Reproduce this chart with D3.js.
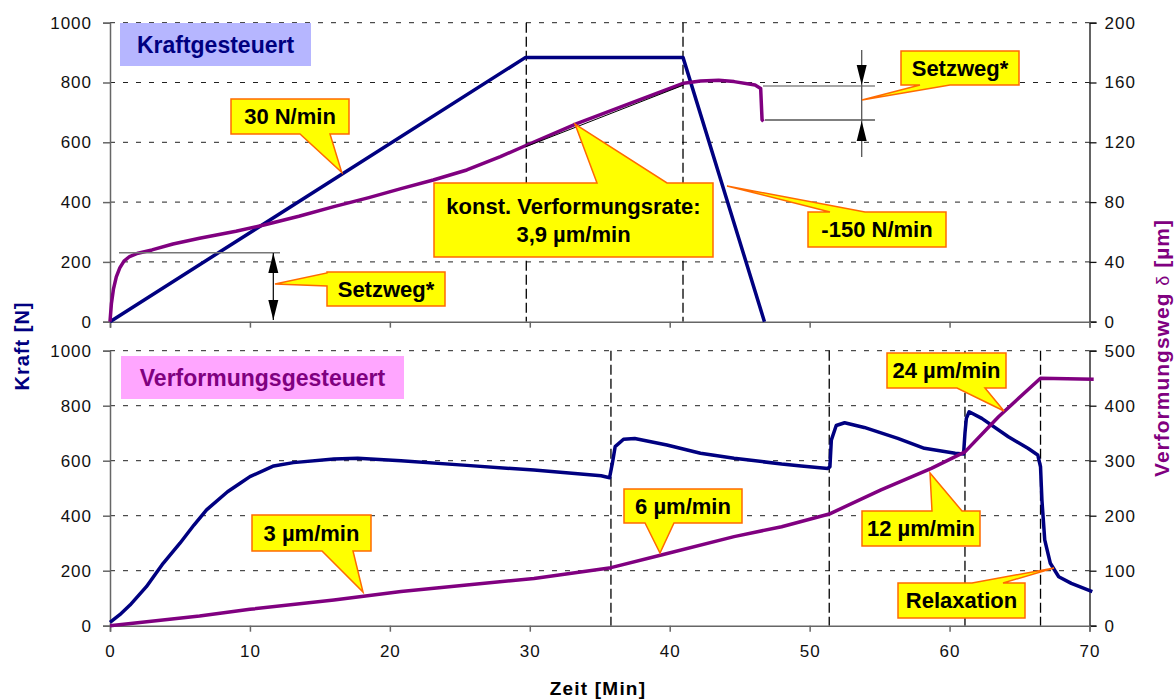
<!DOCTYPE html>
<html>
<head>
<meta charset="utf-8">
<script src="https://cdn.jsdelivr.net/npm/d3@7"></script>
<style>
  body { margin: 0; background: #fff; }
  svg { font-family: "Liberation Sans", Arial, sans-serif; }
</style>
</head>
<body>
<svg id="chart" width="1176" height="699"></svg>
<script>
/// data ///
const timeTicks = [0, 10, 20, 30, 40, 50, 60, 70];
const kraftTicks = [0, 200, 400, 600, 800, 1000];
const wegTicksTop = [0, 40, 80, 120, 160, 200];
const wegTicksBottom = [0, 100, 200, 300, 400, 500];

// Kraftgesteuert (top)
const topKraftTime = [0, 29.7, 40.95, 46.77];
const topKraftN = [0, 884, 884, 0];
const topWegTime = [0, 0.1, 0.25, 0.45, 0.7, 1.0, 1.4, 2.0, 3.0, 4.5, 6.4, 9.0, 11.0, 13.5, 16.0, 18.5, 20.8, 23.1, 25.5, 27.9, 29.8, 33.4, 37.5, 41.0, 42.2, 43.5, 44.6, 46.1, 46.5, 46.6, 46.7];
const topWegUm = [0, 12, 22, 30, 36, 40.5, 43.6, 45.8, 48, 52, 55.8, 60.5, 64.7, 70.5, 77, 83, 89, 94.8, 101.5, 110.4, 118.2, 132.7, 147.2, 159.5, 161, 161.5, 160.6, 158.3, 156, 135, 134];

// Verformungsgesteuert (bottom)
const bottomKraftTime = [0, 0.7, 1.43, 2.6, 3.8, 5.0, 6.0, 6.9, 8.4, 9.3, 10.0, 11.7, 13.1, 16.0, 17.7, 20.8, 25.5, 30.3, 35.1, 35.7, 35.9, 36.1, 36.7, 37.5, 39.8, 42.2, 44.6, 48.0, 49.4, 51.3, 51.45, 51.55, 51.9, 52.5, 53.9, 56.3, 58.2, 60.4, 61.0, 61.1, 61.2, 61.4, 62.3, 64.2, 65.6, 66.3, 66.5, 66.6, 66.8, 67.2, 67.8, 68.7, 70.2];
const bottomKraftN = [12, 40, 75, 142, 227, 300, 366, 421, 487, 518, 542, 581, 593, 606, 609, 600, 583, 566, 545, 538, 590, 651, 678, 681, 657, 627, 609, 588, 581, 572, 578, 675, 728, 738, 721, 681, 645, 627, 624, 700, 754, 778, 754, 687, 645, 621, 578, 457, 312, 227, 178, 154, 124];
const bottomWegTime = [0, 6.4, 10.0, 16.0, 20.8, 25.5, 30.3, 35.8, 39.4, 44.6, 48.0, 51.4, 55.1, 58.7, 61.1, 63.5, 66.5, 70.3];
const bottomWegUm = [0, 17.6, 29.8, 46.7, 62, 74, 86, 105.5, 128.5, 162, 180, 203, 247, 286, 316, 380, 450, 448];

const phaseTop = [29.75, 40.95];
const phaseBottom = [35.8, 51.4, 61.1, 66.5];

/// constants ///
const width = 1176;
const height = 699;
const colourKraft = "#000080";
const colourWeg = "#800080";
const left = 110, right = 1089.5;

const svg = d3.select("#chart").attr("width", width).attr("height", height);

const x = d3.scaleLinear().domain([0, 70]).range([left, right]);

const panels = [
  {
    top: 22.7, bottom: 321.7, wegMax: 200, wegTicks: wegTicksTop, labels: false,
    kraftT: topKraftTime, kraftN: topKraftN, wegT: topWegTime, wegU: topWegUm, phases: phaseTop,
    title: "Kraftgesteuert", titleBox: [120, 23, 311, 66], titleFill: "#b6b6ff", titleColour: colourKraft
  },
  {
    top: 350.7, bottom: 625.7, wegMax: 500, wegTicks: wegTicksBottom, labels: true,
    kraftT: bottomKraftTime, kraftN: bottomKraftN, wegT: bottomWegTime, wegU: bottomWegUm, phases: phaseBottom,
    title: "Verformungsgesteuert", titleBox: [121, 356, 404, 399], titleFill: "#ffa6ff", titleColour: colourWeg
  }
];

panels.forEach(p => {
  const yK = d3.scaleLinear().domain([0, 1000]).range([p.bottom, p.top]);
  const yW = d3.scaleLinear().domain([0, p.wegMax]).range([p.bottom, p.top]);
  p.yK = yK; p.yW = yW;
  const g = svg.append("g");

  // grid
  g.selectAll(".hgrid").data(kraftTicks.filter(d => d > 0)).join("line")
    .attr("x1", left).attr("x2", right)
    .attr("y1", d => yK(d)).attr("y2", d => yK(d))
    .attr("stroke", "#222").attr("stroke-width", 1).attr("stroke-dasharray", "5,8");

  // title box
  const tb = p.titleBox;
  g.append("rect").attr("x", tb[0]).attr("y", tb[1]).attr("width", tb[2] - tb[0]).attr("height", tb[3] - tb[1])
    .attr("fill", p.titleFill);
  g.append("text").attr("x", (tb[0] + tb[2]) / 2).attr("y", (tb[1] + tb[3]) / 2).attr("dy", "0.36em")
    .attr("text-anchor", "middle").attr("font-weight", "bold").attr("font-size", 23)
    .attr("fill", p.titleColour).text(p.title);

  // phase lines
  g.selectAll(".phase").data(p.phases).join("line")
    .attr("x1", d => x(d)).attr("x2", d => x(d))
    .attr("y1", p.top).attr("y2", p.bottom)
    .attr("stroke", "#000").attr("stroke-width", 1.3).attr("stroke-dasharray", "10,4");

  // axes
  const axL = d3.axisLeft(yK).tickValues(kraftTicks).tickSize(7).tickPadding(11).tickFormat(d3.format("d"));
  const axR = d3.axisRight(yW).tickValues(p.wegTicks).tickSize(7).tickPadding(8).tickFormat(d3.format("d"));
  const axB = d3.axisBottom(x).tickValues(timeTicks).tickSize(6).tickPadding(13)
    .tickFormat(p.labels ? d3.format("d") : () => "");

  const gl = g.append("g").attr("transform", `translate(${left},0)`).call(axL);
  const gr = g.append("g").attr("transform", `translate(${right},0)`).call(axR);
  const gb = g.append("g").attr("transform", `translate(0,${p.bottom})`).call(axB);
  [gl, gb].forEach(a => a.selectAll("path,line").attr("stroke", "#666").attr("stroke-width", 1.5));
  gr.selectAll("path,line").attr("stroke", "#111").attr("stroke-width", 1.3);
  [gl, gr, gb].forEach(a => a.selectAll("text")
    .attr("font-family", "'Liberation Sans', Arial, sans-serif")
    .attr("font-size", 17).attr("letter-spacing", "1px").attr("fill", "#111"));

  // series
  const lineK = d3.line().x((d, i) => x(p.kraftT[i])).y(d => yK(d));
  const lineW = d3.line().x((d, i) => x(p.wegT[i])).y(d => yW(d));
  g.append("path").attr("d", lineK(p.kraftN)).attr("fill", "none")
    .attr("stroke", colourKraft).attr("stroke-width", 3.5).attr("stroke-linejoin", "round");
  g.append("path").attr("d", lineW(p.wegU)).attr("fill", "none")
    .attr("stroke", colourWeg).attr("stroke-width", 3.5).attr("stroke-linejoin", "round");
});

/// helper lines (Setzweg, konst. Rate) ///
const topPanel = panels[0];
const ann = svg.append("g");
// tangent for konst. Verformungsrate
ann.append("line")
  .attr("x1", x(29.7)).attr("y1", topPanel.yW(117)).attr("x2", x(41)).attr("y2", topPanel.yW(158.3))
  .attr("stroke", "#000").attr("stroke-width", 1);

function arrowHead(tx, ty, dir) {
  // dir = -1 points up, 1 points down
  const h = 20, w = 5;
  ann.append("path")
    .attr("d", `M${tx},${ty} L${tx - w},${ty - dir * h} L${tx + w},${ty - dir * h} Z`)
    .attr("fill", "#000");
}

// Setzweg at start
ann.append("line").attr("x1", 119).attr("x2", 280).attr("y1", 252.7).attr("y2", 252.7)
  .attr("stroke", "#777").attr("stroke-width", 1.5);
ann.append("line").attr("x1", 273.3).attr("x2", 273.3).attr("y1", 253).attr("y2", 320)
  .attr("stroke", "#000").attr("stroke-width", 1.2);
arrowHead(273.3, 253, -1);
arrowHead(273.3, 320, 1);

// Setzweg at unloading
ann.append("line").attr("x1", 763).attr("x2", 875).attr("y1", 86).attr("y2", 86)
  .attr("stroke", "#888").attr("stroke-width", 1.5);
ann.append("line").attr("x1", 765).attr("x2", 875).attr("y1", 120).attr("y2", 120)
  .attr("stroke", "#000").attr("stroke-width", 1.2);
ann.append("line").attr("x1", 861.7).attr("x2", 861.7).attr("y1", 50).attr("y2", 157)
  .attr("stroke", "#555").attr("stroke-width", 1.3);
arrowHead(861.7, 85, 1);
arrowHead(861.7, 121, -1);

/// callouts ///
const callouts = [
  { text: ["30 N/min"], box: [231, 99, 349, 134], side: "bottom", base: [300, 330], tip: [341.7, 172.3] },
  { text: ["Setzweg*"], box: [327, 272, 445, 306], side: "left", base: [273, 286], tip: [275, 284] },
  { text: ["konst. Verformungsrate:", "3,9 µm/min"], box: [434, 183, 713, 257], side: "top", base: [597, 667], tip: [575, 124] },
  { text: ["-150 N/min"], box: [808, 212, 946, 247], side: "top", base: [830, 865], tip: [727, 186] },
  { text: ["Setzweg*"], box: [901, 51, 1019, 85], side: "bottom", base: [920, 950], tip: [862, 100] },
  { text: ["3 µm/min"], box: [252, 515, 371, 551], side: "bottom", base: [322, 353], tip: [363, 592] },
  { text: ["6 µm/min"], box: [624, 489, 742, 523], side: "bottom", base: [645, 674], tip: [660, 553] },
  { text: ["12 µm/min"], box: [862, 511, 980, 546], side: "top", base: [932, 962], tip: [930, 473] },
  { text: ["24 µm/min"], box: [887, 353, 1006, 388], side: "bottom", base: [957, 985], tip: [1004, 411] },
  { text: ["Relaxation"], box: [898, 583, 1025, 618], side: "top", base: [972, 1003], tip: [1054, 568] }
];

function calloutPath(c) {
  const [x0, y0, x1, y1] = c.box, [b0, b1] = c.base, [tx, ty] = c.tip;
  if (c.side === "top")
    return `M${x0},${y0} L${b0},${y0} L${tx},${ty} L${b1},${y0} L${x1},${y0} L${x1},${y1} L${x0},${y1} Z`;
  if (c.side === "bottom")
    return `M${x0},${y0} L${x1},${y0} L${x1},${y1} L${b1},${y1} L${tx},${ty} L${b0},${y1} L${x0},${y1} Z`;
  if (c.side === "left")
    return `M${x0},${y0} L${x1},${y0} L${x1},${y1} L${x0},${y1} L${x0},${b1} L${tx},${ty} L${x0},${b0} Z`;
  return `M${x0},${y0} L${x1},${y0} L${x1},${b0} L${tx},${ty} L${x1},${b1} L${x1},${y1} L${x0},${y1} Z`;
}

const cg = svg.append("g").selectAll("g").data(callouts).join("g");
cg.append("path").attr("d", calloutPath)
  .attr("fill", "#ffff00").attr("stroke", "#ff6a00").attr("stroke-width", 1.5).attr("stroke-linejoin", "miter");
cg.each(function (c) {
  const cx = (c.box[0] + c.box[2]) / 2, cy = (c.box[1] + c.box[3]) / 2;
  const lh = 28, n = c.text.length;
  d3.select(this).selectAll("text").data(c.text).join("text")
    .attr("x", cx).attr("y", (d, i) => cy + (i - (n - 1) / 2) * lh).attr("dy", "0.36em")
    .attr("text-anchor", "middle").attr("font-weight", "bold").attr("font-size", 22)
    .attr("fill", "#000").text(d => d);
});

/// axis titles ///
svg.append("text").attr("transform", "translate(28.5,346) rotate(-90)")
  .attr("text-anchor", "middle").attr("font-weight", "bold").attr("font-size", 20)
  .attr("letter-spacing", "1px").attr("fill", colourKraft).text("Kraft [N]");

const rt = svg.append("text").attr("transform", "translate(1168.5,348) rotate(-90)")
  .attr("text-anchor", "middle").attr("font-size", 21).attr("letter-spacing", "1px").attr("fill", colourWeg);
rt.append("tspan").attr("font-weight", "bold").text("Verformungsweg ");
rt.append("tspan").attr("font-weight", "normal").attr("font-size", 18).text("δ");
rt.append("tspan").attr("font-weight", "bold").text(" [µm]");

svg.append("text").attr("x", 598).attr("y", 695)
  .attr("text-anchor", "middle").attr("font-weight", "bold").attr("font-size", 19)
  .attr("letter-spacing", "1.2px").attr("fill", "#000").text("Zeit [Min]");
</script>
</body>
</html>
